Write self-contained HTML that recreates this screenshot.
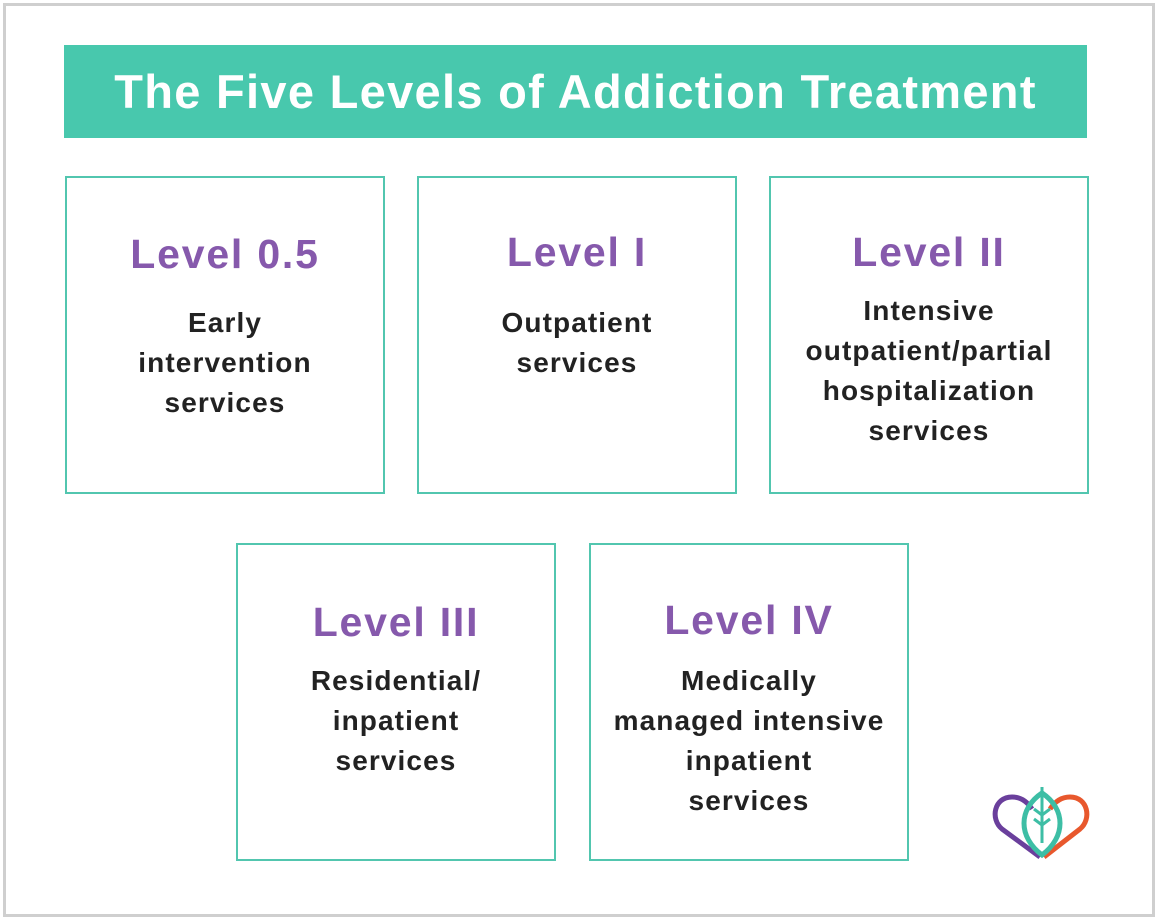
<!DOCTYPE html>
<html><head><meta charset="utf-8"><style>
body{margin:0;width:1156px;height:920px;background:#fff;position:relative;font-family:"Liberation Sans","DejaVu Sans",sans-serif;overflow:hidden}
.frame{position:absolute;left:3px;top:3px;width:1146px;height:908px;border:3px solid #cfcfcf}
.title{position:absolute;left:64px;top:45px;width:1023px;height:93px;background:#48c8ad;color:#fff;font-weight:bold;font-size:47px;letter-spacing:1.3px;text-align:center;line-height:93px}
.box{position:absolute;width:316px;height:314px;border:2px solid #52c6af;box-sizing:content-box}
.h{position:absolute;left:0;width:100%;text-align:center;color:#8659ac;font-size:41px;letter-spacing:1.8px;font-weight:bold;line-height:48px}
.t{position:absolute;left:0;width:100%;text-align:center;color:#222;font-size:28px;letter-spacing:1.1px;font-weight:bold;line-height:40px}
</style></head><body>
<div class="frame"></div>
<div class="title">The Five Levels of Addiction Treatment</div>

<div class="box" style="left:65px;top:176px"><div class="h" style="top:52px">Level 0.5</div><div class="t" style="top:125px">Early<br>intervention<br>services</div></div>
<div class="box" style="left:417px;top:176px"><div class="h" style="top:50px">Level I</div><div class="t" style="top:125px">Outpatient<br>services</div></div>
<div class="box" style="left:769px;top:176px"><div class="h" style="top:50px">Level II</div><div class="t" style="top:113px">Intensive<br>outpatient/partial<br>hospitalization<br>services</div></div>
<div class="box" style="left:236px;top:543px"><div class="h" style="top:53px">Level III</div><div class="t" style="top:116px">Residential/<br>inpatient<br>services</div></div>
<div class="box" style="left:589px;top:543px"><div class="h" style="top:51px">Level IV</div><div class="t" style="top:116px">Medically<br>managed intensive<br>inpatient<br>services</div></div>

<svg style="position:absolute;left:990px;top:785px" width="105" height="80" viewBox="0 0 105 80">
<path d="M50 72 L12 44 C0 34 4 12 22 12 C32 12 38 18 42 24" fill="none" stroke="#6a3f9c" stroke-width="5"/>
<path d="M54 72 L90 44 C102 34 98 12 80 12 C70 12 64 18 60 24" fill="none" stroke="#e8582d" stroke-width="5"/>
<path d="M52 8 C28 24 28 52 52 70 C76 52 76 24 52 8 Z" fill="none" stroke="#3dbea5" stroke-width="5"/>
<path d="M52 2 V58 M52 30 L44 24 M52 30 L60 24 M52 40 L44 34 M52 40 L60 34" stroke="#3dbea5" stroke-width="3" fill="none"/>
</svg>
</body></html>
